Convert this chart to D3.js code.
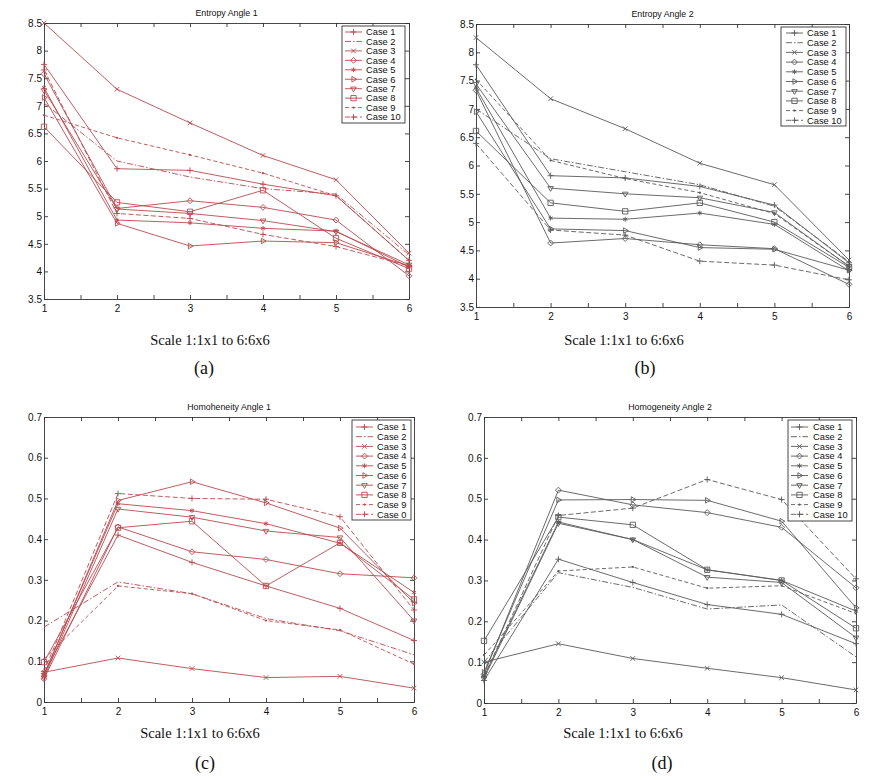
<!DOCTYPE html>
<html><head><meta charset="utf-8">
<script src="https://cdn.jsdelivr.net/npm/d3@7"></script>
<style>body{margin:0;background:#fff} svg{display:block}</style>
</head><body>
<svg id="chart" width="884" height="780"></svg>
<script>
// ---------- data ----------
const xValues = [1, 2, 3, 4, 5, 6];
const xTicks = [1, 1.5, 2, 2.5, 3, 3.5, 4, 4.5, 5, 5.5, 6];
const xTickLabels = ["1", "2", "3", "4", "5", "6"];
const entropyTicks = [3.5, 4, 4.5, 5, 5.5, 6, 6.5, 7, 7.5, 8, 8.5];
const entropyTickLabels = ["3.5", "4", "4.5", "5", "5.5", "6", "6.5", "7", "7.5", "8", "8.5"];
const homogTicks = [0, 0.1, 0.2, 0.3, 0.4, 0.5, 0.6, 0.7];
const homogTickLabels = ["0", "0.1", "0.2", "0.3", "0.4", "0.5", "0.6", "0.7"];
const casesStd = ["Case 1", "Case 2", "Case 3", "Case 4", "Case 5", "Case 6", "Case 7", "Case 8", "Case 9", "Case 10"];
const casesAlt = ["Case 1", "Case 2", "Case 3", "Case 4", "Case 5", "Case 6", "Case 7", "Case 8", "Case 9", "Case 0"];
const panelTitles = ["Entropy Angle 1", "Entropy Angle 2", "Homoheneity Angle 1", "Homogeneity Angle 2"];
const captionText = "Scale 1:1x1 to 6:6x6";
const panelLabels = ["(a)", "(b)", "(c)", "(d)"];

const entropyAngle1 = [
  [7.75, 5.86, 5.83, 5.58, 5.37, 4.20],
  [7.05, 6.00, 5.71, 5.50, 5.40, 4.30],
  [8.50, 7.30, 6.69, 6.10, 5.66, 4.33],
  [7.58, 5.14, 5.28, 5.16, 4.93, 3.92],
  [7.33, 4.93, 4.88, 4.78, 4.73, 4.08],
  [7.15, 4.87, 4.46, 4.55, 4.52, 4.10],
  [7.28, 5.13, 5.05, 4.92, 4.72, 4.12],
  [6.62, 5.25, 5.08, 5.47, 4.60, 4.05],
  [6.83, 6.42, 6.11, 5.78, 5.37, 4.20],
  [7.65, 5.05, 4.96, 4.67, 4.45, 4.10]
];
const entropyAngle2 = [
  [7.78, 5.82, 5.78, 5.63, 5.30, 4.28],
  [7.00, 6.12, 5.89, 5.66, 5.28, 4.30],
  [8.26, 7.18, 6.65, 6.04, 5.66, 4.33],
  [7.33, 4.63, 4.71, 4.60, 4.53, 3.90],
  [7.37, 5.07, 5.05, 5.16, 4.96, 4.14],
  [6.95, 4.88, 4.85, 4.55, 4.52, 4.15],
  [7.44, 5.60, 5.50, 5.43, 5.17, 4.22],
  [6.61, 5.34, 5.19, 5.34, 5.00, 4.20],
  [7.52, 6.09, 5.77, 5.52, 5.15, 4.22],
  [6.39, 4.86, 4.77, 4.31, 4.24, 3.98]
];
const homogAngle1 = [
  [0.070, 0.410, 0.343, 0.285, 0.230, 0.151],
  [0.184, 0.295, 0.266, 0.205, 0.175, 0.116],
  [0.073, 0.108, 0.082, 0.060, 0.063, 0.034],
  [0.057, 0.430, 0.369, 0.350, 0.315, 0.305],
  [0.068, 0.487, 0.470, 0.438, 0.390, 0.269],
  [0.065, 0.495, 0.541, 0.489, 0.427, 0.243],
  [0.060, 0.474, 0.454, 0.420, 0.404, 0.200],
  [0.098, 0.428, 0.444, 0.285, 0.391, 0.252],
  [0.105, 0.285, 0.266, 0.200, 0.177, 0.093],
  [0.075, 0.512, 0.500, 0.498, 0.455, 0.226]
];
const homogAngle2 = [
  [0.055, 0.352, 0.295, 0.241, 0.217, 0.145],
  [0.100, 0.319, 0.283, 0.230, 0.240, 0.113],
  [0.100, 0.145, 0.109, 0.085, 0.062, 0.032],
  [0.070, 0.521, 0.485, 0.466, 0.430, 0.282],
  [0.065, 0.443, 0.400, 0.326, 0.300, 0.225],
  [0.075, 0.497, 0.498, 0.496, 0.445, 0.233],
  [0.060, 0.440, 0.400, 0.308, 0.295, 0.160],
  [0.152, 0.455, 0.436, 0.326, 0.300, 0.183],
  [0.117, 0.323, 0.333, 0.281, 0.287, 0.219],
  [0.065, 0.459, 0.477, 0.547, 0.498, 0.304]
];

// ---------- styles ----------
const markers = ["plus", "none", "times", "diamond", "star", "triRight", "triDown", "square", "dot", "plus"];
const dashes = [null, "6,2,1.5,2", null, null, null, null, null, null, "4,2.5", "5,2.5"];
const RED = "#b94a4e", GREY = "#5a5a5a";

const panels = [
  {data: entropyAngle1, yd: [3.5, 8.5], ticks: entropyTicks, labels: entropyTickLabels, cases: casesStd, color: RED,
   box: {l: 44, r: 409, t: 23, b: 299}, leg: {x: 342, y: 26, w: 63, h: 97, row: 32, step: 9.45, sx: 345, sw: 17, tx: 366},
   cap: {x: 210, y: 345, lx: 204, ly: 374}},
  {data: entropyAngle2, yd: [3.5, 8.5], ticks: entropyTicks, labels: entropyTickLabels, cases: casesStd, color: GREY,
   box: {l: 476, r: 849, t: 24, b: 307}, leg: {x: 781, y: 27, w: 65, h: 99, row: 33, step: 9.7, sx: 786, sw: 17, tx: 807},
   cap: {x: 624, y: 345, lx: 645, ly: 374}},
  {data: homogAngle1, yd: [0, 0.7], ticks: homogTicks, labels: homogTickLabels, cases: casesAlt, color: RED,
   box: {l: 44, r: 414, t: 417, b: 702}, leg: {x: 352, y: 420, w: 59, h: 100, row: 427, step: 9.7, sx: 356, sw: 17, tx: 377},
   cap: {x: 200, y: 738, lx: 205, ly: 769}},
  {data: homogAngle2, yd: [0, 0.7], ticks: homogTicks, labels: homogTickLabels, cases: casesStd, color: GREY,
   box: {l: 484, r: 856, t: 417, b: 703}, leg: {x: 788, y: 420, w: 64, h: 101, row: 427, step: 9.7, sx: 791, sw: 17, tx: 813},
   cap: {x: 623, y: 738, lx: 662, ly: 769}}
];

const svg = d3.select("#chart");
const FONT = "Liberation Sans, Arial, sans-serif";

function drawMarker(g, kind, x, y, color) {
  if (kind === "none") return;
  if (kind === "dot") {
    g.append("circle").attr("cx", x).attr("cy", y).attr("r", 1.1).attr("fill", color);
    return;
  }
  const map = {
    plus: [d3.symbolPlus, 14, 0], times: [d3.symbolTimes, 16, 0], diamond: [d3.symbolDiamond2, 22, 0],
    star: [d3.symbolAsterisk, 16, 0], triRight: [d3.symbolTriangle2, 22, 90], triDown: [d3.symbolTriangle2, 22, 180],
    square: [d3.symbolSquare2, 36, 0]
  };
  const [type, size, rot] = map[kind];
  g.append("path").attr("d", d3.symbol(type, size)())
    .attr("transform", `translate(${x},${y}) rotate(${rot})`)
    .attr("fill", "none").attr("stroke", color).attr("stroke-width", 0.9);
}

panels.forEach((p, i) => {
  const x = d3.scaleLinear().domain([1, 6]).range([p.box.l, p.box.r]);
  const y = d3.scaleLinear().domain(p.yd).range([p.box.b, p.box.t]);
  const g = svg.append("g");
  const axisColor = "#333";
  const fmtY = d => p.labels[p.ticks.indexOf(d)];
  const fmtX = d => Number.isInteger(d) ? xTickLabels[d - 1] : "";

  // axes (MATLAB style, ticks inward on all sides)
  const bottom = g.append("g").attr("transform", `translate(0,${p.box.b})`)
    .call(d3.axisBottom(x).tickValues(xTicks).tickFormat(fmtX).tickSizeInner(-4).tickSizeOuter(0).tickPadding(6));
  const top = g.append("g").attr("transform", `translate(0,${p.box.t})`)
    .call(d3.axisTop(x).tickValues(xTicks).tickFormat("").tickSizeInner(-4).tickSizeOuter(0));
  const left = g.append("g").attr("transform", `translate(${p.box.l},0)`)
    .call(d3.axisLeft(y).tickValues(p.ticks).tickFormat(fmtY).tickSizeInner(-4).tickSizeOuter(0).tickPadding(2));
  const right = g.append("g").attr("transform", `translate(${p.box.r},0)`)
    .call(d3.axisRight(y).tickValues(p.ticks).tickFormat("").tickSizeInner(-4).tickSizeOuter(0));
  [bottom, top, left, right].forEach(a => {
    a.selectAll("path,line").attr("stroke", axisColor).attr("stroke-width", 0.9);
    a.selectAll("text").attr("fill", "#111").style("font-family", FONT).style("font-size", "10px");
  });

  // title
  g.append("text").attr("x", (p.box.l + p.box.r) / 2).attr("y", p.box.t - 7)
    .attr("text-anchor", "middle").style("font-family", FONT).style("font-size", "8.8px").attr("fill", "#111")
    .text(panelTitles[i]);

  // series
  const line = d3.line().x((d, k) => x(xValues[k])).y(d => y(d));
  p.data.forEach((vals, s) => {
    g.append("path").attr("d", line(vals)).attr("fill", "none").attr("stroke", p.color)
      .attr("stroke-width", 0.9).attr("stroke-dasharray", dashes[s]);
    vals.forEach((v, k) => drawMarker(g, markers[s], x(xValues[k]), y(v), p.color));
  });

  // legend
  const L = p.leg;
  g.append("rect").attr("x", L.x).attr("y", L.y).attr("width", L.w).attr("height", L.h)
    .attr("fill", "#fff").attr("stroke", "#333").attr("stroke-width", 0.9);
  p.cases.forEach((c, s) => {
    const ry = L.row + s * L.step;
    g.append("line").attr("x1", L.sx).attr("x2", L.sx + L.sw).attr("y1", ry).attr("y2", ry)
      .attr("stroke", p.color).attr("stroke-width", 0.9).attr("stroke-dasharray", dashes[s]);
    drawMarker(g, markers[s], L.sx + L.sw / 2, ry, p.color);
    g.append("text").attr("x", L.tx).attr("y", ry + 3.3).style("font-family", FONT)
      .style("font-size", "9.3px").attr("fill", "#111").text(c);
  });

  // captions
  svg.append("text").attr("x", p.cap.x).attr("y", p.cap.y).attr("text-anchor", "middle")
    .style("font-family", "Liberation Serif, Times New Roman, serif").style("font-size", "14.5px").attr("fill", "#111")
    .text(captionText);
  svg.append("text").attr("x", p.cap.lx).attr("y", p.cap.ly).attr("text-anchor", "middle")
    .style("font-family", "Liberation Serif, Times New Roman, serif").style("font-size", "18px").attr("fill", "#111")
    .text(panelLabels[i]);
});
</script>
</body></html>
